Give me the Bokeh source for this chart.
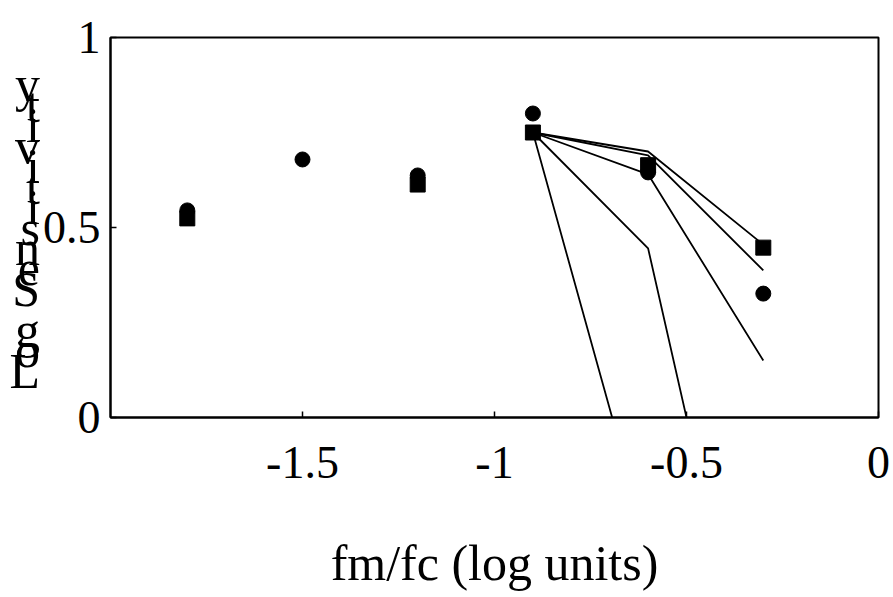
from bokeh.plotting import figure
from bokeh.models import Range1d, FixedTicker
from bokeh.embed import file_html
from bokeh.resources import INLINE

# ---- data ----
circle_x = [-1.8, -1.5, -1.2, -0.9, -0.6, -0.3]
circle_y = [0.545, 0.679, 0.637, 0.800, 0.645, 0.326]

square_x = [-1.8, -1.2, -0.9, -0.6, -0.3]
square_y = [0.524, 0.613, 0.750, 0.664, 0.447]

model_x = [-0.9, -0.6, -0.3]
model_1 = [0.750, 0.700, 0.455]
model_2 = [0.750, 0.690, 0.387]
model_3 = [0.750, 0.640, 0.150]
model_4 = [0.750, 0.445, -0.890]
model_5 = [0.750, -0.340, -1.430]

x_ticks = [-1.5, -1.0, -0.5, 0.0]
x_tick_labels = ["-1.5", "-1", "-0.5", "0"]
y_ticks = [0.0, 0.5, 1.0]
y_tick_labels = ["0", "0.5", "1"]

x_title = "fm/fc (log units)"
y_title = "Log Sensitivity"

FONT = "Liberation Serif"

p = figure(width=893, height=597, x_range=Range1d(-2, 0), y_range=Range1d(0, 1),
           output_backend="svg", toolbar_location=None,
           min_border_left=110, min_border_right=15, min_border_top=37,
           min_border_bottom=180)

p.grid.visible = False
p.outline_line_color = "black"
p.outline_line_width = 2
p.background_fill_color = "white"
p.border_fill_color = "white"

for ax in (p.xaxis[0], p.yaxis[0]):
    ax.axis_line_color = "black"
    ax.axis_line_width = 2
    ax.major_tick_in = 6
    ax.major_tick_out = 0
    ax.minor_tick_line_color = None
    ax.major_tick_line_color = "black"
    ax.major_tick_line_width = 1.5
    ax.major_label_text_font = FONT
    ax.major_label_text_font_size = "46px"
    ax.major_label_text_color = "black"

p.xaxis.ticker = FixedTicker(ticks=x_ticks)
p.xaxis.major_label_overrides = {t: s for t, s in zip(x_ticks, x_tick_labels)}
p.xaxis.major_label_standoff = 29
p.xaxis.axis_label = x_title
p.xaxis.axis_label_text_font = FONT
p.xaxis.axis_label_text_font_size = "50px"
p.xaxis.axis_label_text_font_style = "normal"
p.xaxis.axis_label_text_color = "black"
p.xaxis.axis_label_standoff = 54

p.yaxis.ticker = FixedTicker(ticks=y_ticks)
p.yaxis.major_label_overrides = {t: s for t, s in zip(y_ticks, y_tick_labels)}
p.yaxis.major_label_standoff = 10
# y title: upright letters stacked, reading bottom-to-top as in the reference
p.yaxis.axis_label = "\n".join(reversed(list(y_title)))
p.yaxis.axis_label_orientation = "horizontal"
p.yaxis.axis_label_text_font = FONT
p.yaxis.axis_label_text_font_size = "50px"
p.yaxis.axis_label_text_font_style = "normal"
p.yaxis.axis_label_text_color = "black"
p.yaxis.axis_label_text_line_height = 0.365
p.yaxis.axis_label_text_align = "center"
p.yaxis.axis_label_standoff = 0

# model curves
for m in (model_1, model_2, model_3, model_4, model_5):
    p.line(model_x, m, line_color="black", line_width=1.8)

p.scatter(square_x, square_y, marker="square", size=15, fill_color="black", line_color="black")
p.scatter(circle_x, circle_y, marker="circle", size=15, fill_color="black", line_color="black")

open("out.html", "w").write(file_html(p, INLINE))
